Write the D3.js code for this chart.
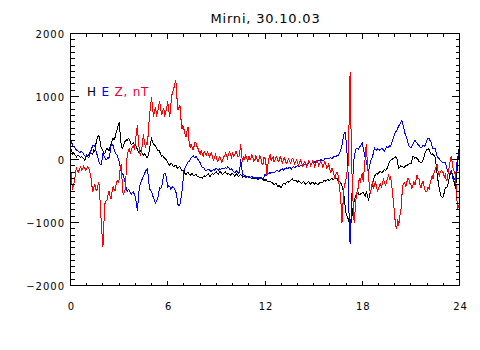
<!DOCTYPE html>
<html>
<head>
<meta charset="utf-8">
<script src="https://cdn.jsdelivr.net/npm/d3@7"></script>
<style>
  html, body { margin: 0; padding: 0; background: #fff; }
  svg { display: block; }
  text { font-family: "DejaVu Sans", sans-serif; fill: #000; }
</style>
</head>
<body>
<svg id="chart" width="480" height="350"></svg>
<script>
// Station / date
const title = "Mirni, 30.10.03";

// Axis ticks
const xTicks = [0, 6, 12, 18, 24];
const yTicks = [-2000, -1000, 0, 1000, 2000];
const xMinorStep = 1;     // hours
const yMinorStep = 100;   // nT

// Samples every 1/16 h (3.75 min) from 00 to 24 UT, one row per hour
const sampleStep = 0.0625;

// H component, nT
const seriesH = [
  130, 150, 90, 110, 80, 60, 40, 70, 70, 40, 30, 50, 30, 10, -10, 20,
  70, 60, 80, 110, 110, 90, 80, 150, 130, 240, 320, 360, 380, 300, 200, 170,
  140, 90, 100, 150, 180, 160, 140, 200, 240, 300, 340, 310, 350, 420, 470, 540,
  590, 420, 240, 180, 200, 260, 290, 320, 300, 340, 320, 280, 240, 250, 270, 240,
  240, 200, 160, 120, 110, 140, 120, 90, 70, 90, 70, 40, 30, 80, 160, 260,
  330, 280, 240, 230, 210, 170, 150, 150, 130, 80, 50, 60, 40, 20, 10, -20,
  -50, -80, -90, -60, -60, -100, -120, -100, -90, -130, -140, -120, -110, -150, -180, -170,
  -190, -220, -240, -210, -200, -230, -250, -240, -220, -250, -260, -240, -230, -260, -270, -280,
  -290, -280, -300, -270, -260, -270, -260, -240, -230, -260, -270, -240, -220, -240, -230, -210,
  -200, -220, -230, -200, -190, -220, -240, -220, -210, -200, -220, -230, -220, -240, -250, -230,
  -220, -240, -260, -240, -230, -250, -270, -250, -240, -260, -280, -270, -270, -290, -280, -270,
  -280, -270, -290, -300, -290, -310, -300, -290, -300, -320, -310, -290, -280, -300, -330, -320,
  -330, -320, -340, -360, -350, -340, -360, -370, -380, -400, -390, -380, -410, -430, -410, -430,
  -450, -420, -380, -380, -390, -370, -350, -360, -350, -330, -320, -310, -330, -340, -330, -340,
  -360, -340, -350, -370, -380, -360, -350, -370, -390, -380, -360, -350, -370, -390, -370, -360,
  -380, -390, -370, -380, -400, -390, -370, -360, -370, -360, -340, -330, -350, -330, -320, -330,
  -330, -310, -300, -320, -310, -300, -290, -300, -330, -340, -350, -380, -420, -480, -580, -720,
  -860, -900, -940, -1000, -1080, -1000, -890, -760, -660, -600, -550, -540, -530, -560, -550, -540,
  -530, -520, -550, -580, -510, -560, -640, -600, -510, -470, -410, -330, -270, -240, -220, -230,
  -220, -200, -190, -210, -200, -180, -160, -170, -160, -120, -70, -40, -10, 0, 10, 20,
  30, 40, 30, -60, -140, -120, -100, -110, -110, -130, -110, -100, -100, -80, -70, -60,
  -70, -20, 50, 40, 20, 30, 20, 0, -30, -40, -60, -40, -10, 40, 100, 140,
  160, 170, 160, 120, 80, 90, 80, 60, 40, -100, -240, -360, -460, -540, -590, -600,
  -590, -520, -450, -440, -430, -360, -290, -230, -190, -230, -290, -380, -460, -300, -90, 80,
  250
];

// E component, nT
const seriesE = [
  300, 270, 240, 200, 190, 170, 150, 140, 130, 110, 120, 130, 110, 80, 60, 50,
  70, 50, 30, 70, 130, 180, 220, 230, 210, 150, 90, 30, -30, -70, -90, -20,
  90, 60, 30, 0, 10, 30, 20, 110, 210, 240, 220, 170, 120, 90, 70, 20,
  -30, -110, -190, -220, -240, -300, -360, -450, -510, -480, -490, -530, -550, -520, -510, -550,
  -590, -700, -810, -620, -440, -390, -340, -300, -270, -230, -190, -160, -150, -300, -460, -490,
  -510, -570, -610, -660, -690, -650, -630, -540, -450, -460, -440, -340, -240, -220, -230, -330,
  -440, -420, -430, -470, -450, -430, -450, -480, -510, -600, -710, -740, -720, -620, -510, -350,
  -190, -140, -110, -70, -40, -30, -10, 20, 40, 60, 40, 30, 50, 20, 0, -30,
  -50, -100, -130, -120, -140, -170, -180, -160, -150, -160, -180, -190, -170, -160, -170, -150,
  -140, -160, -170, -150, -160, -150, -150, -140, -140, -130, -140, -120, -130, -150, -160, -150,
  -170, -190, -210, -200, -180, -200, -220, -190, 10, -120, -250, -240, -250, -270, -280, -270,
  -270, -280, -280, -270, -280, -290, -290, -300, -290, -280, -300, -310, -300, -290, -310, -280,
  -240, -260, -250, -230, -210, -220, -210, -200, -200, -210, -200, -180, -170, -190, -185, -170,
  -160, -150, -170, -160, -140, -130, -150, -140, -120, -130, -150, -130, -110, -120, -120, -110,
  -100, -110, -110, -90, -90, -100, -100, -80, -70, -80, -80, -60, -50, -60, -60, -40,
  -30, -40, -40, -20, -10, -20, -20, 0, -10, -20, -10, 10, 20, 10, 10, 20,
  20, 30, 10, 30, 50, 40, 50, 60, 60, 90, 120, 170, 230, 330, 410, 430,
  310, 100, -210, -900, -1340, -900, -490, -200, 40, 120, 170, 180, 160, 190, 210, 230,
  260, 180, 90, 30, -20, -120, -210, -120, -40, 0, 30, 110, 180, 160, 150, 170,
  160, 150, 160, 180, 170, 150, 130, 170, 200, 190, 200, 220, 210, 260, 310, 360,
  410, 440, 460, 500, 530, 560, 590, 620, 570, 500, 420, 380, 330, 270, 220, 200,
  190, 210, 240, 280, 310, 280, 260, 240, 220, 200, 180, 200, 230, 210, 220, 260,
  310, 340, 330, 300, 270, 210, 170, 180, 170, 110, 50, 30, 10, -10, -30, -50,
  -50, -40, -50, -110, -170, -210, -230, -200, -190, -260, -340, -320, -290, -120, 40, 70,
  80
];

// Z component, nT
const seriesZ = [
  -100, -300, -480, -400, -350, -200, -140, -190, -200, -140, -120, -170, -150, -110, -130, -170,
  -150, -110, -140, -200, -260, -400, -520, -450, -400, -470, -500, -420, -360, -600, -900, -1150,
  -1390, -1000, -700, -660, -640, -560, -500, -580, -620, -520, -430, -480, -500, -400, -330, -360,
  -320, -150, -80, -350, -560, -520, -480, -200, 80, 130, 170, 100, 140, 200, 220, 180,
  280, 420, 540, 300, 150, 60, 120, 250, 400, 280, 180, 260, 240, 480, 700, 850,
  990, 820, 680, 780, 820, 700, 740, 860, 920, 800, 700, 760, 820, 700, 740, 830,
  920, 780, 680, 860, 1020, 1080, 1130, 1200, 1265, 1000, 780, 820, 870, 650, 480, 540,
  480, 400, 360, 450, 510, 300, 190, 250, 200, 150, 210, 280, 260, 200, 170, 120,
  80, 140, 90, 50, 140, 90, 70, 120, 100, 40, 70, 110, 60, -10, 20, 80,
  40, -30, -20, 50, 30, -40, -30, 40, 40, 100, 60, 20, 80, 120, 70, 30,
  110, 50, 60, 130, 120, 50, 40, 100, 250, 60, -40, 50, 0, 70, 20, -30,
  60, 0, 10, 70, 40, -30, -10, 60, 20, -40, 0, 60, 10, -60, -80, 30,
  20, -80, -250, -60, 30, 80, -20, 20, 40, -40, -10, 50, 20, -30, -10, 40,
  10, -60, -20, 30, -10, -70, -40, 10, -10, -60, -30, 20, 0, -70, -50, 0,
  -30, -90, -60, -10, -40, -110, -90, -30, -50, -110, -80, -20, -30, -100, -70, -20,
  -50, -110, -80, -20, -40, -100, -70, -30, -60, -120, -90, -40, -70, -140, -120, -70,
  -150, -220, -130, -180, -240, -300, -240, -200, -240, -380, -500, -700, -1000, -700, -450, -380,
  -300, -200, -100, 600, 1385, 400, -300, -700, -1000, -800, -600, -500, -450, -300, -350, -280,
  -220, -350, -150, 50, 250, -50, -250, -400, -550, -450, -350, -450, -420, -350, -430, -500,
  -470, -400, -380, -450, -370, -320, -360, -420, -350, -300, -250, -330, -270, -400, -550, -700,
  -900, -1050, -1100, -950, -1050, -900, -850, -600, -420, -380, -370, -440, -360, -300, -320, -380,
  -390, -460, -410, -350, -410, -330, -240, -300, -310, -400, -450, -380, -340, -420, -490, -520,
  -500, -440, -470, -380, -310, -250, -310, -200, -160, -120, -90, -200, -260, -200, -170, -190,
  -210, -280, -240, -330, -310, -200, -110, 0, 50, -80, -160, -200, -240, -500, -800, -750,
  -700
];

const seriesColors = { H: "#000000", E: "#0000ff", Z: "#ff0000" };
const legendParts = [
  { text: "H", color: "#000000" },
  { text: " E", color: "#0000ff" },
  { text: " Z, nT", color: "#e6003a" }
];

const svg = d3.select("#chart");
const frame = { left: 70, right: 459, top: 33, bottom: 285 };

const x = d3.scaleLinear().domain([0, 24]).range([frame.left + 0.5, frame.right + 0.5]);
const y = d3.scaleLinear().domain([-2000, 2000]).range([frame.bottom + 0.5, frame.top + 0.5]);

// Traces
const line = d3.line()
  .x((d, i) => x(i * sampleStep))
  .y(d => y(d));

const traces = [
  { key: "H", values: seriesH },
  { key: "E", values: seriesE },
  { key: "Z", values: seriesZ }
];

const plot = svg.append("g");
plot.selectAll("path.trace")
  .data(traces)
  .join("path")
  .attr("class", "trace")
  .attr("d", d => line(d.values))
  .attr("fill", "none")
  .attr("stroke", d => seriesColors[d.key])
  .attr("stroke-width", 1)
  .attr("stroke-linejoin", "miter")
  .attr("shape-rendering", "crispEdges");

// Frame
svg.append("rect")
  .attr("x", frame.left + 0.5)
  .attr("y", frame.top + 0.5)
  .attr("width", frame.right - frame.left)
  .attr("height", frame.bottom - frame.top)
  .attr("fill", "none")
  .attr("stroke", "#000")
  .attr("shape-rendering", "crispEdges");

// Inward ticks on all four sides
const ticks = svg.append("g").attr("stroke", "#000").attr("shape-rendering", "crispEdges");
const xMajorLen = 5, xMinorLen = 3, yMajorLen = 8, yMinorLen = 4;
const xAll = d3.range(0, 24 + 1e-9, xMinorStep);
const yAll = d3.range(-2000, 2000 + 1e-9, yMinorStep);

xAll.forEach(v => {
  const len = xTicks.includes(v) ? xMajorLen : xMinorLen;
  const px = Math.round(x(v) - 0.5) + 0.5;
  ticks.append("line").attr("x1", px).attr("x2", px)
    .attr("y1", frame.bottom + 0.5).attr("y2", frame.bottom + 0.5 - len);
  ticks.append("line").attr("x1", px).attr("x2", px)
    .attr("y1", frame.top + 0.5).attr("y2", frame.top + 0.5 + len);
});
yAll.forEach(v => {
  const len = yTicks.includes(v) ? yMajorLen : yMinorLen;
  const py = Math.round(y(v) - 0.5) + 0.5;
  ticks.append("line").attr("y1", py).attr("y2", py)
    .attr("x1", frame.left + 0.5).attr("x2", frame.left + 0.5 + len);
  ticks.append("line").attr("y1", py).attr("y2", py)
    .attr("x1", frame.right + 0.5).attr("x2", frame.right + 0.5 - len);
});

// Tick labels
const fmt = v => (v < 0 ? "\u2212" + Math.abs(v) : String(v));
svg.append("g").selectAll("text")
  .data(yTicks)
  .join("text")
  .attr("x", frame.left - 5)
  .attr("y", d => y(d) + 4)
  .attr("text-anchor", "end")
  .attr("font-size", 10)
  .attr("letter-spacing", 1)
  .text(fmt);

svg.append("g").selectAll("text")
  .data(xTicks)
  .join("text")
  .attr("x", d => x(d) + 1)
  .attr("y", 309.5)
  .attr("text-anchor", "middle")
  .attr("font-size", 10)
  .attr("letter-spacing", 1)
  .text(d => String(d));

// Title
svg.append("text")
  .attr("x", (frame.left + frame.right) / 2 + 1)
  .attr("y", 23)
  .attr("text-anchor", "middle")
  .attr("font-size", 13)
  .attr("letter-spacing", 0.8)
  .text(title);

// Component legend
const legend = svg.append("text")
  .attr("x", 87)
  .attr("y", 96)
  .attr("font-size", 12)
  .attr("letter-spacing", 0.8)
  .attr("xml:space", "preserve");
legend.selectAll("tspan")
  .data(legendParts)
  .join("tspan")
  .style("fill", d => d.color)
  .text(d => d.text);
</script>
</body>
</html>
